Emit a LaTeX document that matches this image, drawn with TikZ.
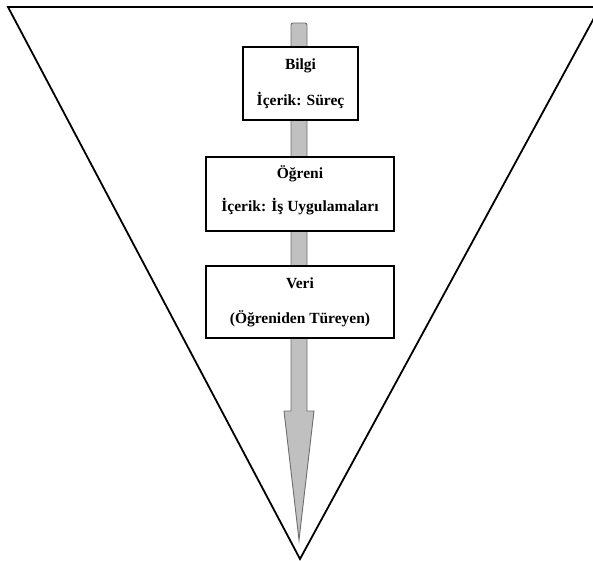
\documentclass[tikz,border=0pt]{standalone}
\usepackage{fontspec}
\setmainfont{Liberation Serif}
\definecolor{shaftfill}{HTML}{C0C0C0}
\definecolor{shaftline}{HTML}{6E6E6E}
\tikzset{
  funnel/.style={draw=black, line width=1.8pt, line join=miter},
  bigarrow/.style={fill=shaftfill, draw=shaftline, line width=0.9pt, line join=miter},
  levelbox/.style={draw=black, line width=1.6pt, fill=white, align=center,
    font=\fontsize{15.5}{18}\selectfont\bfseries, inner sep=0pt}
}
\begin{document}
\begin{tikzpicture}[x=1pt,y=-1pt]
  \useasboundingbox (0,0) rectangle (593,560);
  \fill[white] (0,0) rectangle (593,560);
  \begin{scope}
    \clip (0,0) rectangle (593,560);
    % inverted triangle
    \draw[funnel] (8,7) -- (600,7) -- (300,559) -- cycle;
  \end{scope}
  % downward arrow behind the boxes
  \draw[bigarrow] (291,411) -- (291,26) [rounded corners=2pt] -- (291,23) -- (307,23) [sharp corners] -- (307,411)
    -- (314,411) -- (299,540) -- (284,411) -- cycle;
  % levels
  \node[levelbox, minimum width=115pt, minimum height=73pt] (bilgi) at (300.5,83.5)
    {Bilgi\\[18pt]İçerik: Süreç};
  \node[levelbox, minimum width=188pt, minimum height=74pt] (ogreni) at (300,194)
    {Öğreni\\[15pt]İçerik: İş Uygulamaları\rule[-10pt]{0pt}{10pt}};
  \node[levelbox, minimum width=188pt, minimum height=72pt] (veri) at (300,302)
    {Veri\\[17pt](Öğreniden Türeyen)};
\end{tikzpicture}
\end{document}
